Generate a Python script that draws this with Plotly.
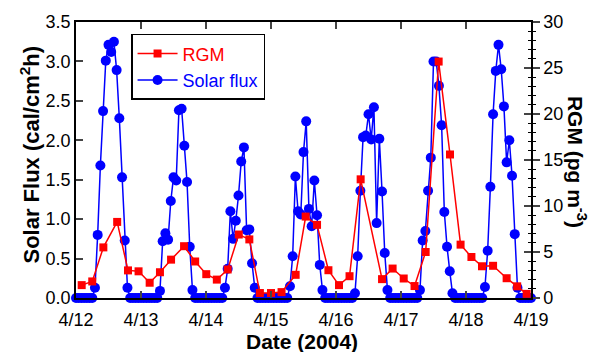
import plotly.graph_objects as go

# ---------------- data ----------------
days = ["2004-04-12", "2004-04-13", "2004-04-14", "2004-04-15",
        "2004-04-16", "2004-04-17", "2004-04-18"]

# hourly solar flux (cal/cm2h), hours 0..23 for each day
solar_0412 = [0, 0, 0, 0, 0, 0, 0, 0.13, 0.80, 1.68, 2.37, 3.01, 3.21, 3.12, 3.25, 2.89, 2.28, 1.53, 0.73, 0.13, 0, 0, 0, 0]
solar_0413 = [0, 0, 0, 0, 0, 0, 0, 0.09, 0.72, 0.82, 0.74, 1.23, 1.53, 1.49, 2.38, 2.40, 1.93, 1.47, 0.65, 0.10, 0, 0, 0, 0]
solar_0414 = [0, 0, 0, 0, 0, 0, 0, 0.13, 0.37, 1.10, 0.75, 0.98, 1.30, 1.73, 1.91, 0.86, 0.87, 0.44, 0.13, 0, 0, 0, 0, 0]
solar_0415 = [0, 0, 0, 0, 0, 0, 0, 0.15, 0.53, 1.54, 1.10, 1.06, 1.85, 2.24, 1.13, 0.91, 1.49, 1.05, 0.42, 0.10, 0, 0, 0, 0]
solar_0416 = [0, 0, 0, 0, 0, 0, 0, 0.06, 0.53, 1.36, 2.04, 2.06, 2.33, 2.01, 2.42, 0.95, 2.02, 1.35, 0.57, 0.10, 0, 0, 0, 0]
solar_0417 = [0, 0, 0, 0, 0, 0, 0, 0.10, 0.73, 0.85, 1.36, 1.78, 3.00, 3.00, 2.69, 2.19, 1.09, 0.65, 0.34, 0.06, 0, 0, 0, 0]
solar_0418 = [0, 0, 0, 0, 0, 0, 0, 0.14, 0.60, 1.41, 2.33, 2.88, 3.21, 2.90, 2.43, 1.72, 2.00, 1.55, 0.81, 0.13, 0, 0, 0, 0]
solar_end_time = "2004-04-19 00:00"
solar_end_value = 0

# RGM (pg m-3)
rgm_time = [
    "2004-04-12 02:06", "2004-04-12 06:00", "2004-04-12 10:06", "2004-04-12 15:12",
    "2004-04-12 19:12", "2004-04-12 23:06", "2004-04-13 03:12", "2004-04-13 07:00",
    "2004-04-13 11:06", "2004-04-13 15:54", "2004-04-13 20:00", "2004-04-14 00:06",
    "2004-04-14 04:00", "2004-04-14 08:00", "2004-04-14 12:06", "2004-04-14 16:00",
    "2004-04-14 19:54", "2004-04-15 00:00", "2004-04-15 03:54", "2004-04-15 09:06",
    "2004-04-15 12:48", "2004-04-15 17:00", "2004-04-15 21:12", "2004-04-16 01:06",
    "2004-04-16 05:00", "2004-04-16 09:06", "2004-04-16 17:00", "2004-04-16 20:54",
    "2004-04-17 01:00", "2004-04-17 05:00", "2004-04-17 09:06", "2004-04-17 13:54",
    "2004-04-17 18:06", "2004-04-17 22:00", "2004-04-18 02:00", "2004-04-18 05:54",
    "2004-04-18 10:00", "2004-04-18 15:00", "2004-04-18 18:54", "2004-04-18 22:24",
]
rgm_value = [
    1.40, 1.80, 5.5, 8.27, 3.0, 2.9, 1.66, 2.8, 4.17, 5.63, 3.97, 2.59,
    2.0, 3.1, 6.9, 6.37, 0.54, 0.54, 0.64, 2.52, 8.85, 7.95, 3.02, 1.40,
    2.37, 12.9, 2.05, 3.2, 2.12, 1.30, 5.0, 25.7, 15.6, 5.8, 4.46, 3.45,
    3.5, 2.15, 1.27, 0.45,
]

x_range = ["2004-04-12", "2004-04-19"]
solar_ticks = [0, 0.5, 1.0, 1.5, 2.0, 2.5, 3.0, 3.5]
rgm_ticks = [0, 5, 10, 15, 20, 25, 30]

# ---------------- build series ----------------
solar_days = [solar_0412, solar_0413, solar_0414, solar_0415, solar_0416, solar_0417, solar_0418]
solar_time, solar_value = [], []
for d, vals in zip(days, solar_days):
    for h, v in enumerate(vals):
        solar_time.append(f"{d} {h:02d}:00")
        solar_value.append(v)
solar_time.append(solar_end_time)
solar_value.append(solar_end_value)

FONT = "Liberation Sans, Arial, sans-serif"
RED = "#FF0000"
BLUE = "#0000FF"

fig = go.Figure()
fig.add_trace(go.Scatter(
    x=rgm_time, y=rgm_value, yaxis="y2", mode="lines+markers",
    name=f"<span style='color:{RED}'>RGM</span>",
    line=dict(color=RED, width=1.5),
    marker=dict(symbol="square", size=8, color=RED),
    cliponaxis=False,
))
fig.add_trace(go.Scatter(
    x=solar_time, y=solar_value, yaxis="y", mode="lines+markers",
    name=f"<span style='color:{BLUE}'>Solar flux</span>",
    line=dict(color=BLUE, width=1.5),
    marker=dict(symbol="circle", size=10, color=BLUE),
    cliponaxis=False,
))
# helper (empty) trace for the inner tick marks of the right axis
fig.add_trace(go.Scatter(x=[None], y=[None], yaxis="y3", showlegend=False, hoverinfo="skip"))

fig.update_layout(
    width=594, height=352,
    margin=dict(l=76, r=63, t=20, b=54),
    paper_bgcolor="white", plot_bgcolor="white",
    font=dict(family=FONT, size=18, color="black"),
    xaxis=dict(
        type="date", range=x_range, dtick=86400000, tick0="2004-04-12",
        tickformat="%-m/%d", ticks="inside", ticklen=7, tickwidth=1.5,
        showline=True, linecolor="black", linewidth=1.5, mirror="ticks",
        showgrid=False, zeroline=False, tickfont=dict(size=18),
        ticklabelstandoff=5,
    ),
    yaxis=dict(
        range=[0, 3.5], tickvals=solar_ticks, tickformat=".1f",
        ticks="inside", ticklen=7, tickwidth=1.5,
        showline=True, linecolor="black", linewidth=1.5,
        showgrid=False, zeroline=False, tickfont=dict(size=18),
    ),
    yaxis2=dict(
        range=[0, 30], tickvals=rgm_ticks, overlaying="y", side="right",
        anchor="x", ticks="outside", ticklen=7, tickwidth=1.5,
        showline=True, linecolor="black", linewidth=1.5,
        showgrid=False, zeroline=False, tickfont=dict(size=18),
        minor=dict(ticks="outside", ticklen=3, dtick=1, tickcolor="black", tickwidth=1),
    ),
    yaxis3=dict(
        range=[0, 30], tickvals=rgm_ticks, overlaying="y", side="right",
        anchor="x", ticks="inside", ticklen=7, tickwidth=1.5,
        showticklabels=False, showline=False, showgrid=False, zeroline=False,
        minor=dict(ticks="inside", ticklen=3, dtick=1, tickcolor="black", tickwidth=1),
    ),
    legend=dict(
        x=0.121, y=0.957, xanchor="left", yanchor="top",
        bordercolor="black", borderwidth=1.5, bgcolor="white",
        font=dict(size=18), itemwidth=40, tracegroupgap=0,
    ),
    annotations=[
        dict(text="<b>Date (2004)</b>", xref="paper", yref="paper", x=0.497, y=-0.158,
             showarrow=False, font=dict(size=21), xanchor="center", yanchor="middle"),
        dict(text="<b>Solar Flux (cal/cm<sup>2</sup>h)</b>", xref="paper", yref="paper",
             x=-0.101, y=0.52, textangle=-90, showarrow=False, font=dict(size=22),
             xanchor="center", yanchor="middle"),
        dict(text="<b>RGM (pg m<sup>-3</sup>)</b>", xref="paper", yref="paper",
             x=1.1, y=0.495, textangle=90, showarrow=False, font=dict(size=21),
             xanchor="center", yanchor="middle"),
    ],
)

fig.write_html("out.html")
